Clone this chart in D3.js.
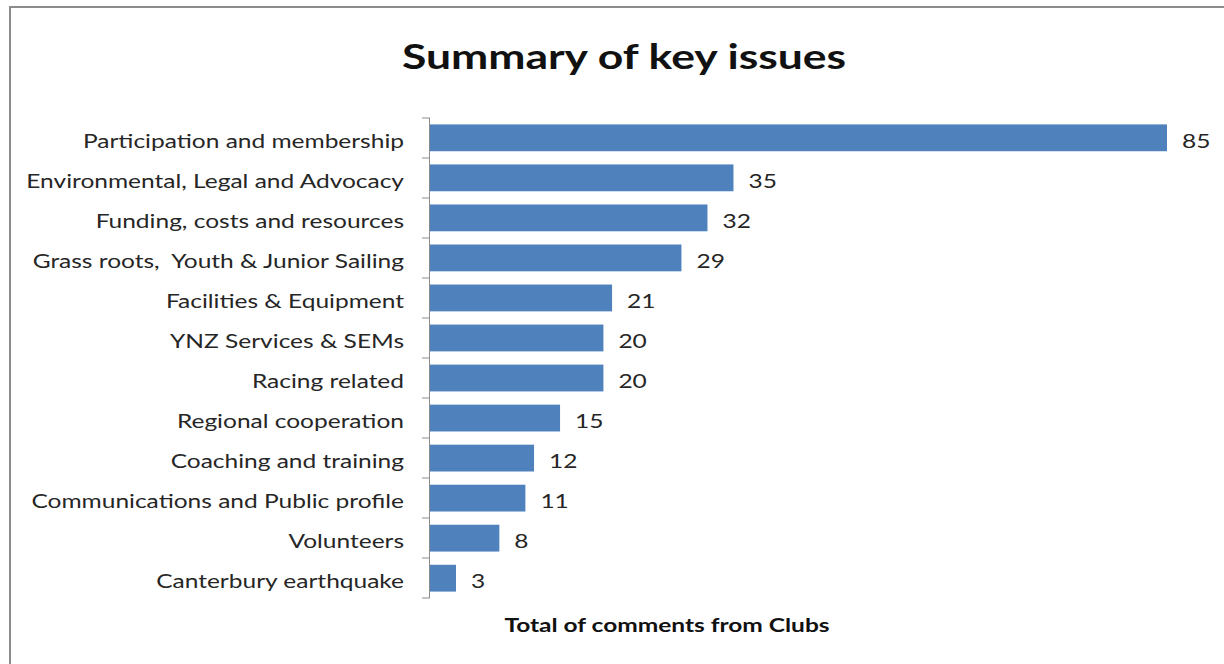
<!DOCTYPE html>
<html>
<head>
<meta charset="utf-8">
<script src="https://cdn.jsdelivr.net/npm/d3@7"></script>
<style>
  html, body { margin: 0; padding: 0; background: #fff; }
  svg { display: block; }
</style>
</head>
<body>
<svg id="chart" width="1224" height="664"></svg>
<script>
const categories = [
  "Participation and membership",
  "Environmental, Legal and Advocacy",
  "Funding, costs and resources",
  "Grass roots,  Youth & Junior Sailing",
  "Facilities & Equipment",
  "YNZ Services & SEMs",
  "Racing related",
  "Regional cooperation",
  "Coaching and training",
  "Communications and Public profile",
  "Volunteers",
  "Canterbury earthquake"
];
const values = [85, 35, 32, 29, 21, 20, 20, 15, 12, 11, 8, 3];
const titleText = "Summary of key issues";
const axisTitle = "Total of comments from Clubs";

(function () {
const svg = d3.select("#chart");
const W = 1224, H = 664;
const font = "Lato, 'Open Sans', sans-serif";
const sx = 1.29; // horizontal stretch seen in the reference text

// frame
svg.append("path")
  .attr("d", `M10,${H} L10,7 L${W},7`)
  .attr("fill", "none").attr("stroke", "#8c8c8c").attr("stroke-width", 2);

const pLeft = 430, pTop = 118, pBottom = 598;
const x = d3.scaleLinear().domain([0, 85]).range([pLeft, 1167]);
const y = d3.scaleBand().domain(categories).range([pTop, pBottom]).paddingInner(0.33).paddingOuter(0.16);

svg.append("text")
  .attr("transform", `translate(624,69) scale(1.27,1)`)
  .attr("text-anchor", "middle")
  .attr("font-family", font).attr("font-weight", "bold")
  .attr("font-size", 35).attr("fill", "#111")
  .text(titleText);

// bars
svg.append("g").selectAll("rect")
  .data(values)
  .join("rect")
  .attr("x", x(0))
  .attr("y", (d, i) => y(categories[i]))
  .attr("width", d => x(d) - x(0))
  .attr("height", y.bandwidth())
  .attr("fill", "#4f81bd");

// value labels
svg.append("g").selectAll("text")
  .data(values)
  .join("text")
  .attr("transform", (d, i) => `translate(${x(d) + 15},${y(categories[i]) + y.bandwidth() / 2 + 10}) scale(${sx},1)`)
  .attr("font-family", font).attr("font-size", 19).attr("fill", "#262626")
  .text(d => d);

// axis with ticks at category boundaries
const axisG = svg.append("g");
axisG.append("line")
  .attr("x1", pLeft - 0.5).attr("x2", pLeft - 0.5)
  .attr("y1", pTop).attr("y2", pBottom)
  .attr("stroke", "#8c8c8c").attr("stroke-width", 1);
const step = (pBottom - pTop) / categories.length;
const bounds = d3.range(categories.length + 1).map(i => pTop + i * step);
axisG.selectAll("line.tick")
  .data(bounds)
  .join("line").attr("class", "tick")
  .attr("x1", pLeft - 8).attr("x2", pLeft)
  .attr("y1", d => d).attr("y2", d => d)
  .attr("stroke", "#8c8c8c").attr("stroke-width", 1);

// category labels
svg.append("g").selectAll("text")
  .data(categories)
  .join("text")
  .attr("transform", d => `translate(404,${y(d) + y.bandwidth() / 2 + 10}) scale(${sx},1)`)
  .attr("text-anchor", "end")
  .attr("font-family", font).attr("font-size", 19).attr("fill", "#262626")
  .style("white-space", "pre")
  .text(d => d);

svg.append("text")
  .attr("transform", `translate(667,632) scale(${sx},1)`)
  .attr("text-anchor", "middle")
  .attr("font-family", font).attr("font-weight", "bold")
  .attr("font-size", 19).attr("fill", "#111")
  .text(axisTitle);
})();
</script>
</body>
</html>
